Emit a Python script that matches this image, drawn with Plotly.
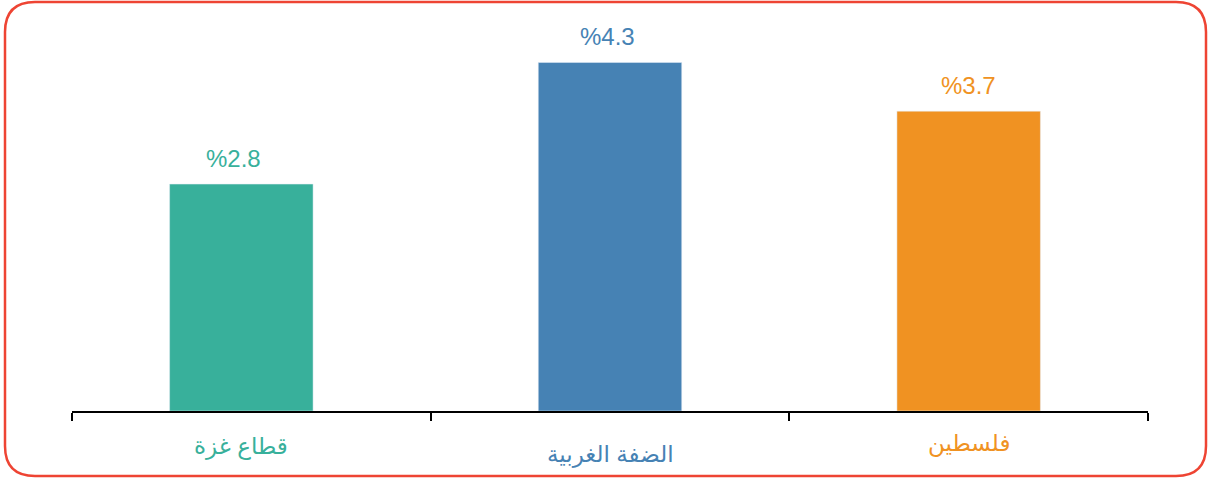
import plotly.graph_objects as go

regions = ["قطاع غزة", "الضفة الغربية", "فلسطين"]
rates = [2.8, 4.3, 3.7]
rate_labels = ["%2.8", "%4.3", "%3.7"]
colors = ["#38B09B", "#4682B4", "#F09222"]

# small per-category nudges seen in the original layout (pixels)
bar_nudge = [-10, 0, 0]
value_nudge = [-18, -3, 0]
label_drop = [35, 43, 32]

W, H = 1209, 479
L, R, T, B = 72, 61, 22, 68
pw, ph = W - L - R, H - T - B
cat_px = pw / 3

def px(X):
    return (X - L) / pw

def py(Y):
    return (H - B - Y) / ph

fig = go.Figure()
fig.add_trace(go.Bar(
    x=regions, y=rates, marker_color=colors, width=0.4,
    offset=[-0.2 + n / cat_px for n in bar_nudge],
    hoverinfo="skip", showlegend=False,
))

for i, (reg, val) in enumerate(zip(regions, rates)):
    fig.add_annotation(x=reg, y=val, text=rate_labels[i], showarrow=False,
                       yanchor="middle", yshift=26, xshift=value_nudge[i],
                       font=dict(size=24, color=colors[i]))
    fig.add_annotation(x=reg, y=0, text=reg, showarrow=False,
                       yanchor="middle", yshift=-label_drop[i], xshift=bar_nudge[i],
                       font=dict(size=23, color=colors[i]))

# rounded red frame around the whole chart
x0, x1, y0, y1, r = 5, 1206, 2, 476, 30
path = (f"M {px(x0 + r)},{py(y0)} L {px(x1 - r)},{py(y0)} "
        f"Q {px(x1)},{py(y0)} {px(x1)},{py(y0 + r)} "
        f"L {px(x1)},{py(y1 - r)} Q {px(x1)},{py(y1)} {px(x1 - r)},{py(y1)} "
        f"L {px(x0 + r)},{py(y1)} Q {px(x0)},{py(y1)} {px(x0)},{py(y1 - r)} "
        f"L {px(x0)},{py(y0 + r)} Q {px(x0)},{py(y0)} {px(x0 + r)},{py(y0)} Z")
fig.add_shape(type="path", path=path, xref="paper", yref="paper",
              line=dict(color="#EE4433", width=2.5), layer="above")

fig.update_layout(
    width=W, height=H,
    margin=dict(l=L, r=R, t=T, b=B),
    paper_bgcolor="white", plot_bgcolor="white",
    font=dict(family="Liberation Sans, Arial, DejaVu Sans, sans-serif"),
)
fig.update_xaxes(showline=True, linecolor="black", linewidth=2,
                 ticks="outside", tickson="boundaries", ticklen=8,
                 tickcolor="black", tickwidth=2, showticklabels=False,
                 range=[-0.5, 2.5], showgrid=False)
fig.update_yaxes(range=[0, 4.8], visible=False, showgrid=False)

fig.write_html("out.html", config={"displayModeBar": False},
               post_script="document.body.style.margin='0';")
